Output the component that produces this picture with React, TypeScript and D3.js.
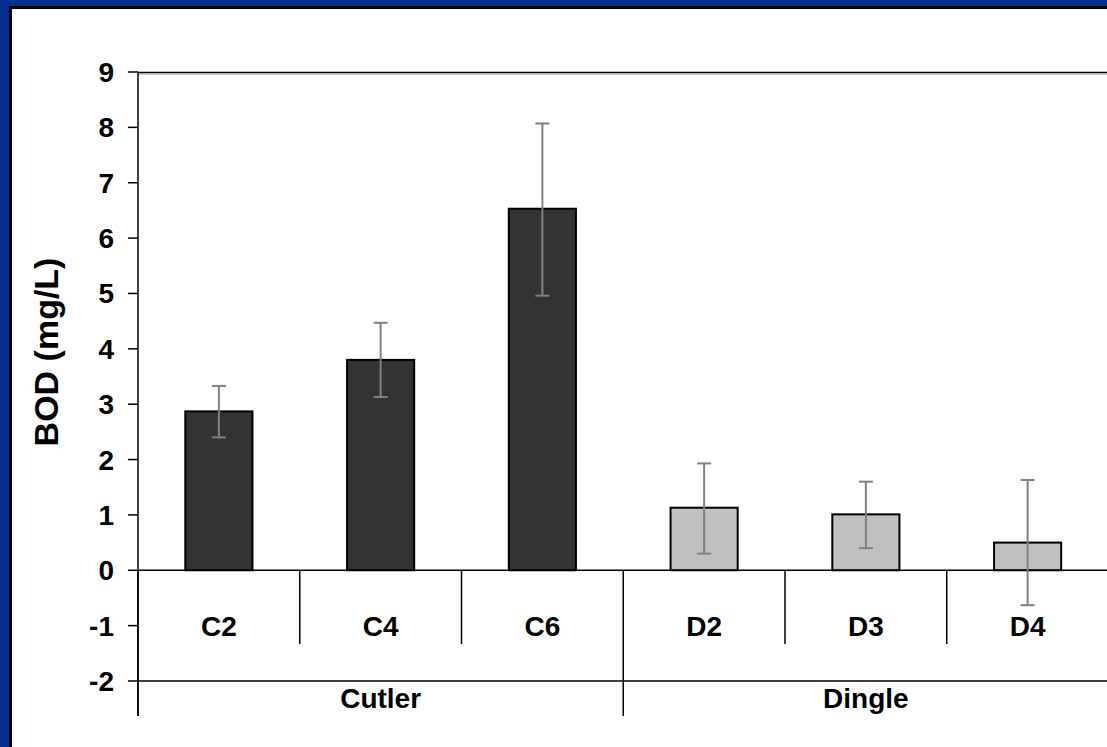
import React from 'react'
import * as d3 from 'd3'

const sites = ['C2', 'C4', 'C6', 'D2', 'D3', 'D4']
const groups = ['Cutler', 'Cutler', 'Cutler', 'Dingle', 'Dingle', 'Dingle']
const groupNames = ['Cutler', 'Dingle']
const bod = [2.87, 3.8, 6.53, 1.13, 1.01, 0.5]
const errLow = [2.4, 3.13, 4.96, 0.3, 0.4, -0.63]
const errHigh = [3.33, 4.47, 8.07, 1.93, 1.6, 1.63]
const yTicks = [-2, -1, 0, 1, 2, 3, 4, 5, 6, 7, 8, 9]

const W = 1107
const H = 747
const FONT = '"Liberation Sans", Arial, sans-serif'

const App = () => {
  React.useEffect(() => {
    document.body.style.margin = '0'
    document.body.style.overflow = 'hidden'
  }, [])

  const left = 138
  const right = 1108.5
  const y = d3.scaleLinear().domain([-2, 9]).range([681, 72])
  const x = d3.scaleBand().domain(sites).range([left, right]).padding(0)
  const bw = x.bandwidth() * 0.415
  const y0 = y(0)
  const gx = d3.scaleBand().domain(groupNames).range([left, right])

  return (
    <svg width={W} height={H} style={{ display: 'block', background: '#fff' }}>
      {/* frame */}
      <rect x={0} y={0} width={W} height={6} fill="#00308f" />
      <rect x={0} y={0} width={9} height={H} fill="#00308f" />
      <rect x={9} y={6} width={W - 9} height={3} fill="#000" />
      <rect x={9} y={6} width={3} height={H - 6} fill="#000" />

      {/* plot top border */}
      <line x1={left} x2={W} y1={72.5} y2={72.5} stroke="#000" strokeWidth={1.5} />
      <line x1={left} x2={W} y1={74} y2={74} stroke="#999" strokeWidth={1} />

      {/* bars */}
      {sites.map((s, i) => {
        const cx = x(s)! + x.bandwidth() / 2
        return (
          <rect key={s} x={cx - bw / 2} y={y(bod[i])} width={bw} height={y0 - y(bod[i])}
            fill={groups[i] === 'Cutler' ? '#333333' : '#c0c0c0'} stroke="#000" strokeWidth={2} />
        )
      })}

      {/* zero line & category axis */}
      <line x1={left} x2={W} y1={y0} y2={y0} stroke="#000" strokeWidth={1.5} />
      <line x1={left} x2={W} y1={y(-2)} y2={y(-2)} stroke="#000" strokeWidth={1.5} />
      {sites.slice(1).map((s, i) => (
        groups[i + 1] !== groups[i] ? null :
          <line key={s} x1={x(s)} x2={x(s)} y1={y0} y2={644} stroke="#000" strokeWidth={1.5} />
      ))}
      {groupNames.map(g => (
        <line key={g} x1={gx(g)} x2={gx(g)} y1={y0} y2={716} stroke="#000" strokeWidth={1.5} />
      ))}

      {/* error bars */}
      {sites.map((s, i) => {
        const cx = x(s)! + x.bandwidth() / 2
        return (
          <g key={s} stroke="#808080" strokeWidth={2}>
            <line x1={cx} x2={cx} y1={y(errLow[i])} y2={y(errHigh[i])} />
            <line x1={cx - 7} x2={cx + 7} y1={y(errLow[i])} y2={y(errLow[i])} />
            <line x1={cx - 7} x2={cx + 7} y1={y(errHigh[i])} y2={y(errHigh[i])} />
          </g>
        )
      })}

      {/* y axis */}
      <line x1={left} x2={left} y1={72} y2={716} stroke="#000" strokeWidth={1.5} />
      {yTicks.map(t => (
        <g key={t}>
          <line x1={128} x2={left} y1={y(t)} y2={y(t)} stroke="#000" strokeWidth={1.5} />
          <text x={114} y={y(t) + 10} textAnchor="end" fontFamily={FONT} fontWeight="bold" fontSize={28}>{t}</text>
        </g>
      ))}

      {/* category labels */}
      {sites.map(s => (
        <text key={s} x={x(s)! + x.bandwidth() / 2} y={636} textAnchor="middle"
          fontFamily={FONT} fontWeight="bold" fontSize={28}>{s}</text>
      ))}
      {groupNames.map(g => (
        <text key={g} x={gx(g)! + gx.bandwidth() / 2} y={708} textAnchor="middle"
          fontFamily={FONT} fontWeight="bold" fontSize={28}>{g}</text>
      ))}

      <text transform="translate(58,352) rotate(-90)" textAnchor="middle"
        fontFamily={FONT} fontWeight="bold" fontSize={34}>BOD (mg/L)</text>
    </svg>
  )
}

export default App
